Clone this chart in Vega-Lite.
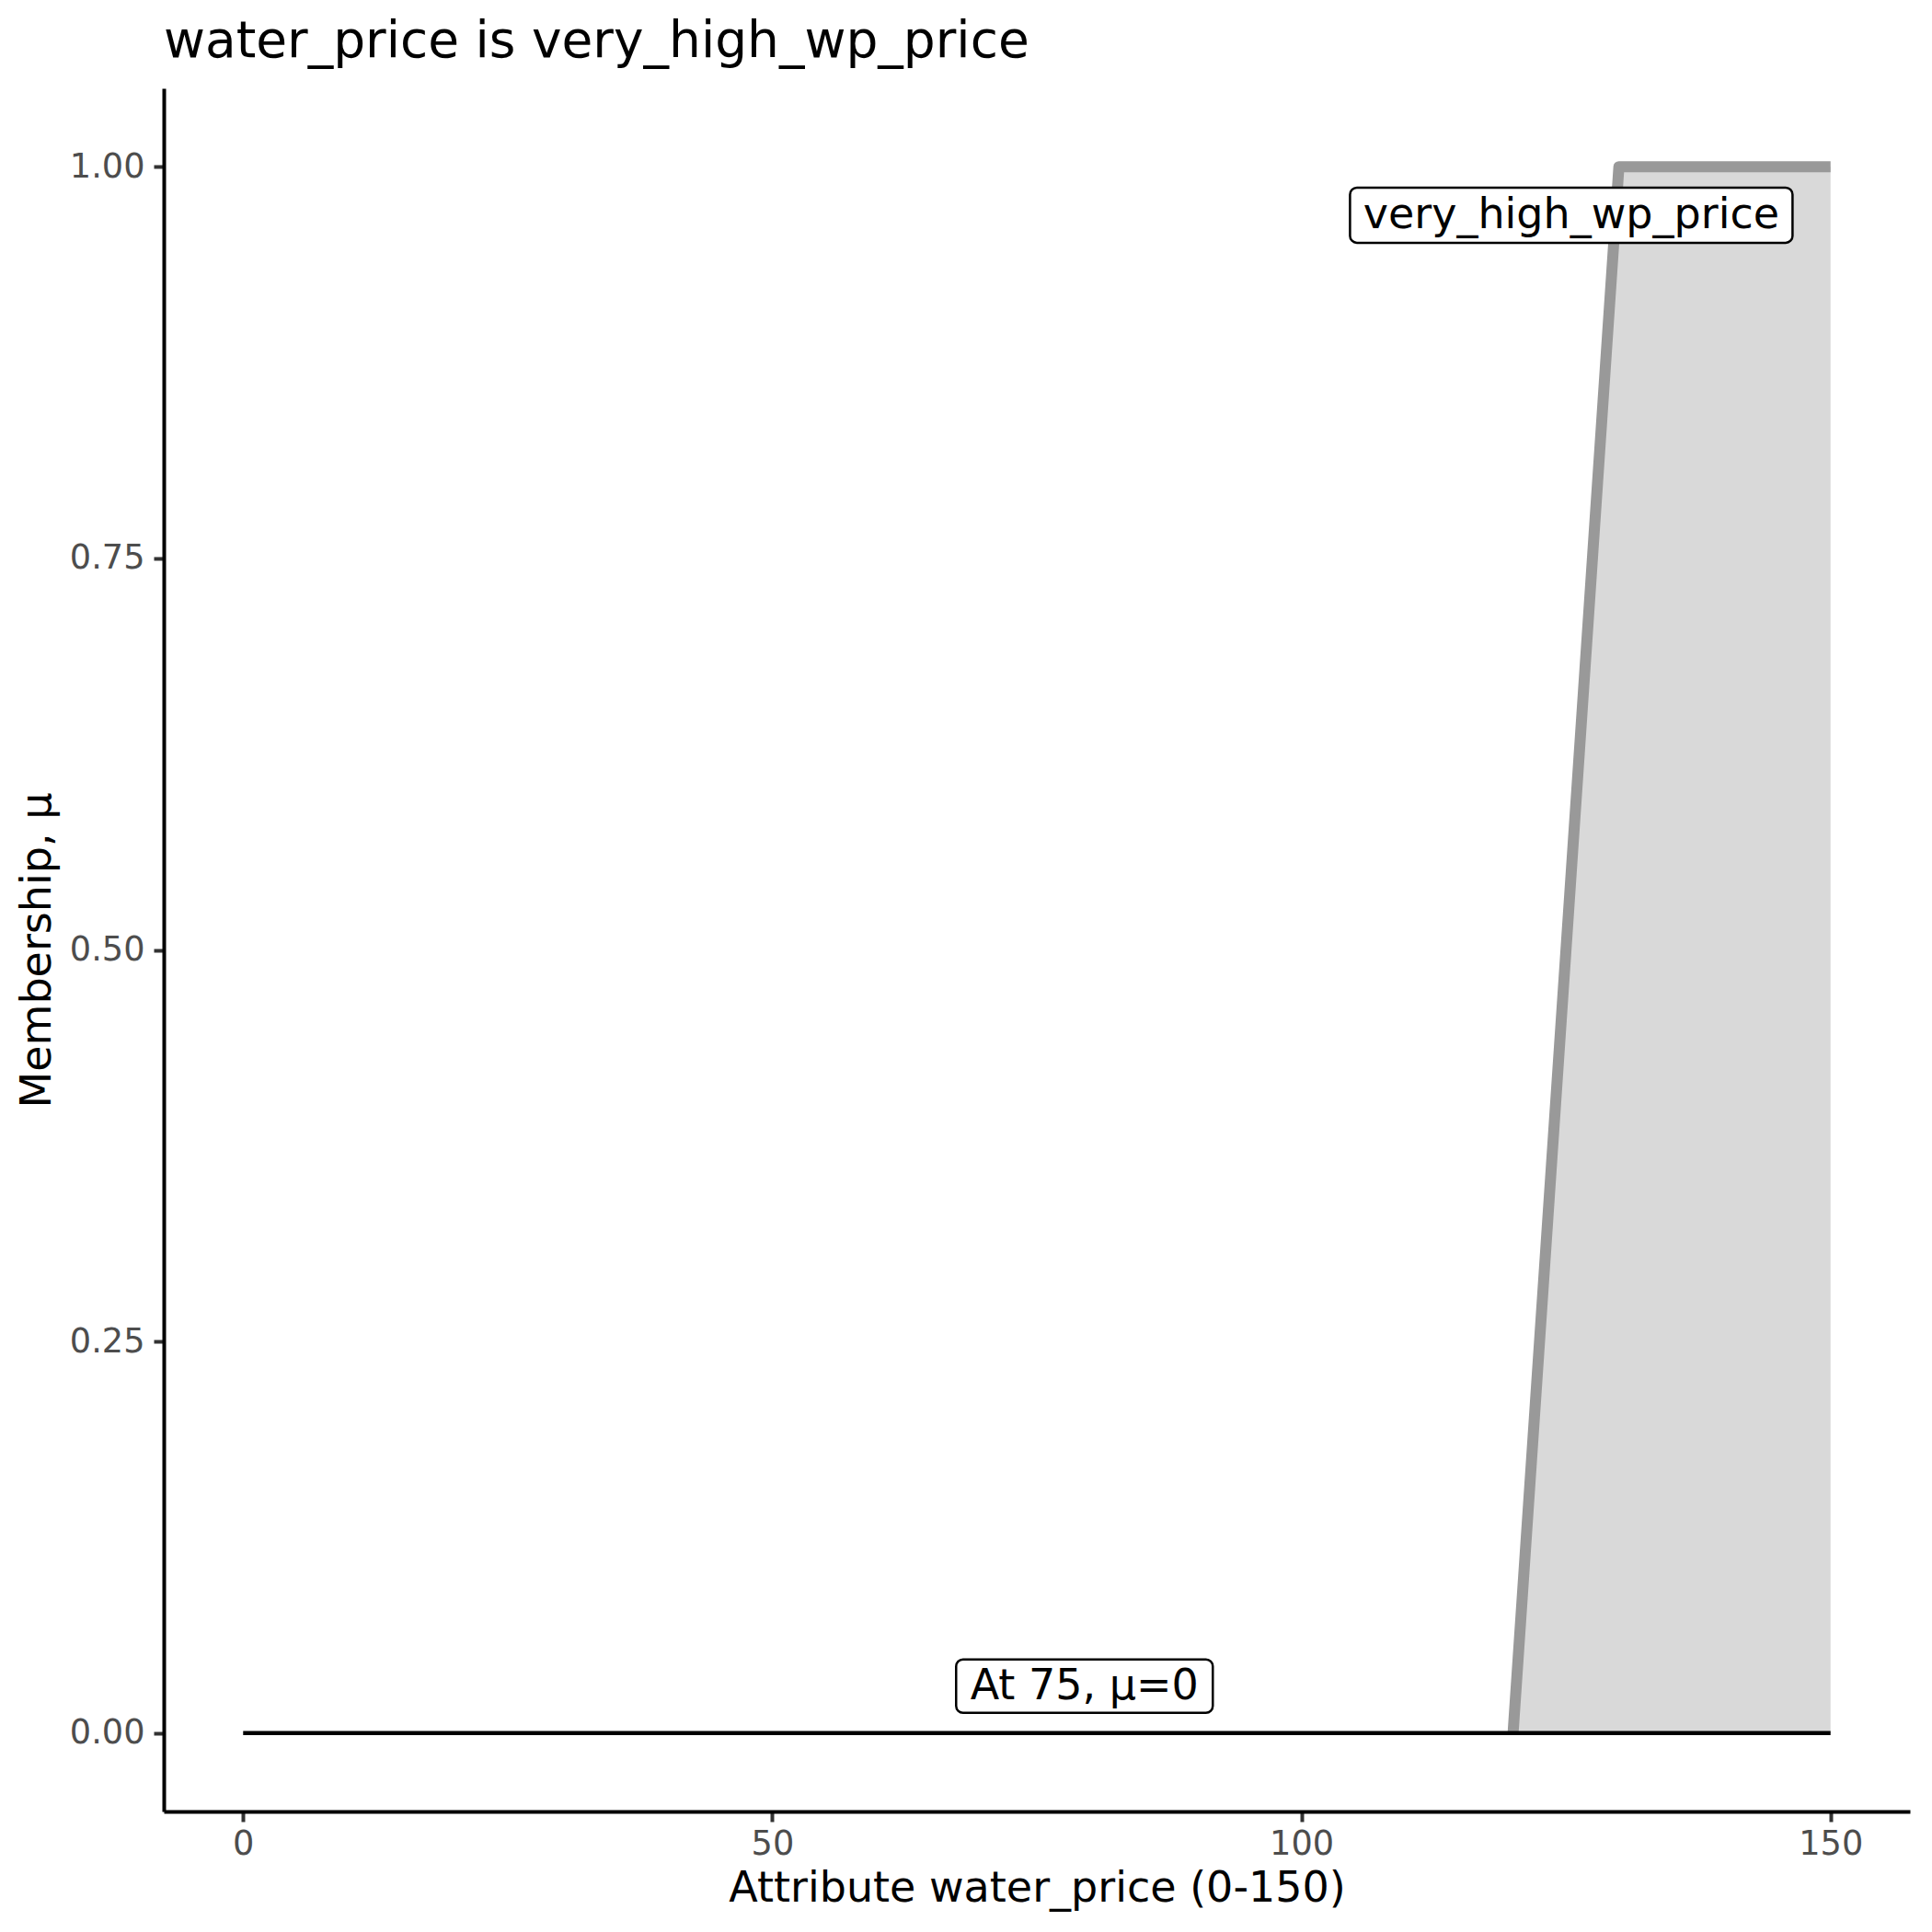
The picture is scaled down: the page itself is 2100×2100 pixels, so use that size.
{
  "$schema": "https://vega.github.io/schema/vega-lite/v6.json",
  "autosize": {"type": "none"},
  "width": 1898,
  "height": 1873,
  "padding": {"left": 178, "top": 96, "right": 24, "bottom": 131},
  "background": "white",
  "config": {
    "font": "DejaVu Sans",
    "view": {"stroke": null},
    "axis": {"grid": false, "domainColor": "black", "domainWidth": 4, "tickColor": "#333333", "tickWidth": 4, "tickSize": 11, "labelColor": "#4d4d4d", "labelFontSize": 36.7, "labelFont": "DejaVu Sans", "titleFont": "DejaVu Sans", "titleFontSize": 46, "titleFontWeight": "normal", "titleColor": "black"}
  },
  "title": {"text": "water_price is very_high_wp_price", "anchor": "start", "frame": "group", "fontSize": 55, "fontWeight": "normal", "font": "DejaVu Sans", "color": "black", "baseline": "alphabetic", "offset": -21},
  "datasets": {
    "membership": [
      {"x": 120, "mu": 0},
      {"x": 130, "mu": 1},
      {"x": 150, "mu": 1}
    ],
    "area": [
      {"x": 120, "mu": 0},
      {"x": 130, "mu": 1},
      {"x": 150, "mu": 1}
    ],
    "cut": [
      {"x": 0, "mu": 0},
      {"x": 150, "mu": 0}
    ],
    "labels": [
      {"label": "very_high_wp_price", "x": 125.5, "mu": 0.969},
      {"label": "At 75, μ=0", "x": 79.5, "mu": 0.03}
    ]
  },
  "encoding": {
    "x": {"field": "x", "type": "quantitative", "scale": {"domain": [-7.5, 157.5], "nice": false, "zero": false}, "axis": {"values": [0, 50, 100, 150], "title": "Attribute water_price (0-150)", "labelPadding": 6, "titleBaseline": "alphabetic", "titleY": 97, "titleX": 949}},
    "y": {"field": "mu", "type": "quantitative", "scale": {"domain": [-0.05, 1.05], "nice": false, "zero": false}, "axis": {"values": [0, 0.25, 0.5, 0.75, 1], "format": ".2f", "title": "Membership, μ", "labelPadding": 10, "titleX": -138, "titleY": 936.5, "titleAngle": -90, "titleBaseline": "middle", "titleAlign": "center"}}
  },
  "layer": [
    {"data": {"name": "area"}, "mark": {"type": "area", "color": "#d9d9d9", "opacity": 1}},
    {"data": {"name": "membership"}, "mark": {"type": "line", "color": "#999999", "strokeWidth": 12, "strokeJoin": "round", "strokeCap": "butt"}},
    {"data": {"name": "cut"}, "mark": {"type": "line", "color": "black", "strokeWidth": 4.5}},
    {"data": {"name": "labels"}, "mark": {"type": "point", "filled": true, "fill": "white", "stroke": "black", "strokeWidth": 2.5, "opacity": 1, "fillOpacity": 1, "size": 10000},
     "encoding": {"shape": {"field": "label", "type": "nominal", "legend": null, "scale": {"domain": ["very_high_wp_price", "At 75, μ=0"], "range": [
       "M -4.66 -0.6 L 4.66 -0.6 A 0.15 0.15 0 0 1 4.81 -0.45 L 4.81 0.45 A 0.15 0.15 0 0 1 4.66 0.6 L -4.66 0.6 A 0.15 0.15 0 0 1 -4.81 0.45 L -4.81 -0.45 A 0.15 0.15 0 0 1 -4.66 -0.6 Z",
       "M -2.64 -0.58 L 2.64 -0.58 A 0.15 0.15 0 0 1 2.79 -0.43 L 2.79 0.43 A 0.15 0.15 0 0 1 2.64 0.58 L -2.64 0.58 A 0.15 0.15 0 0 1 -2.79 0.43 L -2.79 -0.43 A 0.15 0.15 0 0 1 -2.64 -0.58 Z"
     ]}}}},
    {"data": {"name": "labels"}, "mark": {"type": "text", "fontSize": 46, "font": "DejaVu Sans", "color": "black", "align": "center", "baseline": "middle"},
     "encoding": {"text": {"field": "label", "type": "nominal"}}}
  ]
}
